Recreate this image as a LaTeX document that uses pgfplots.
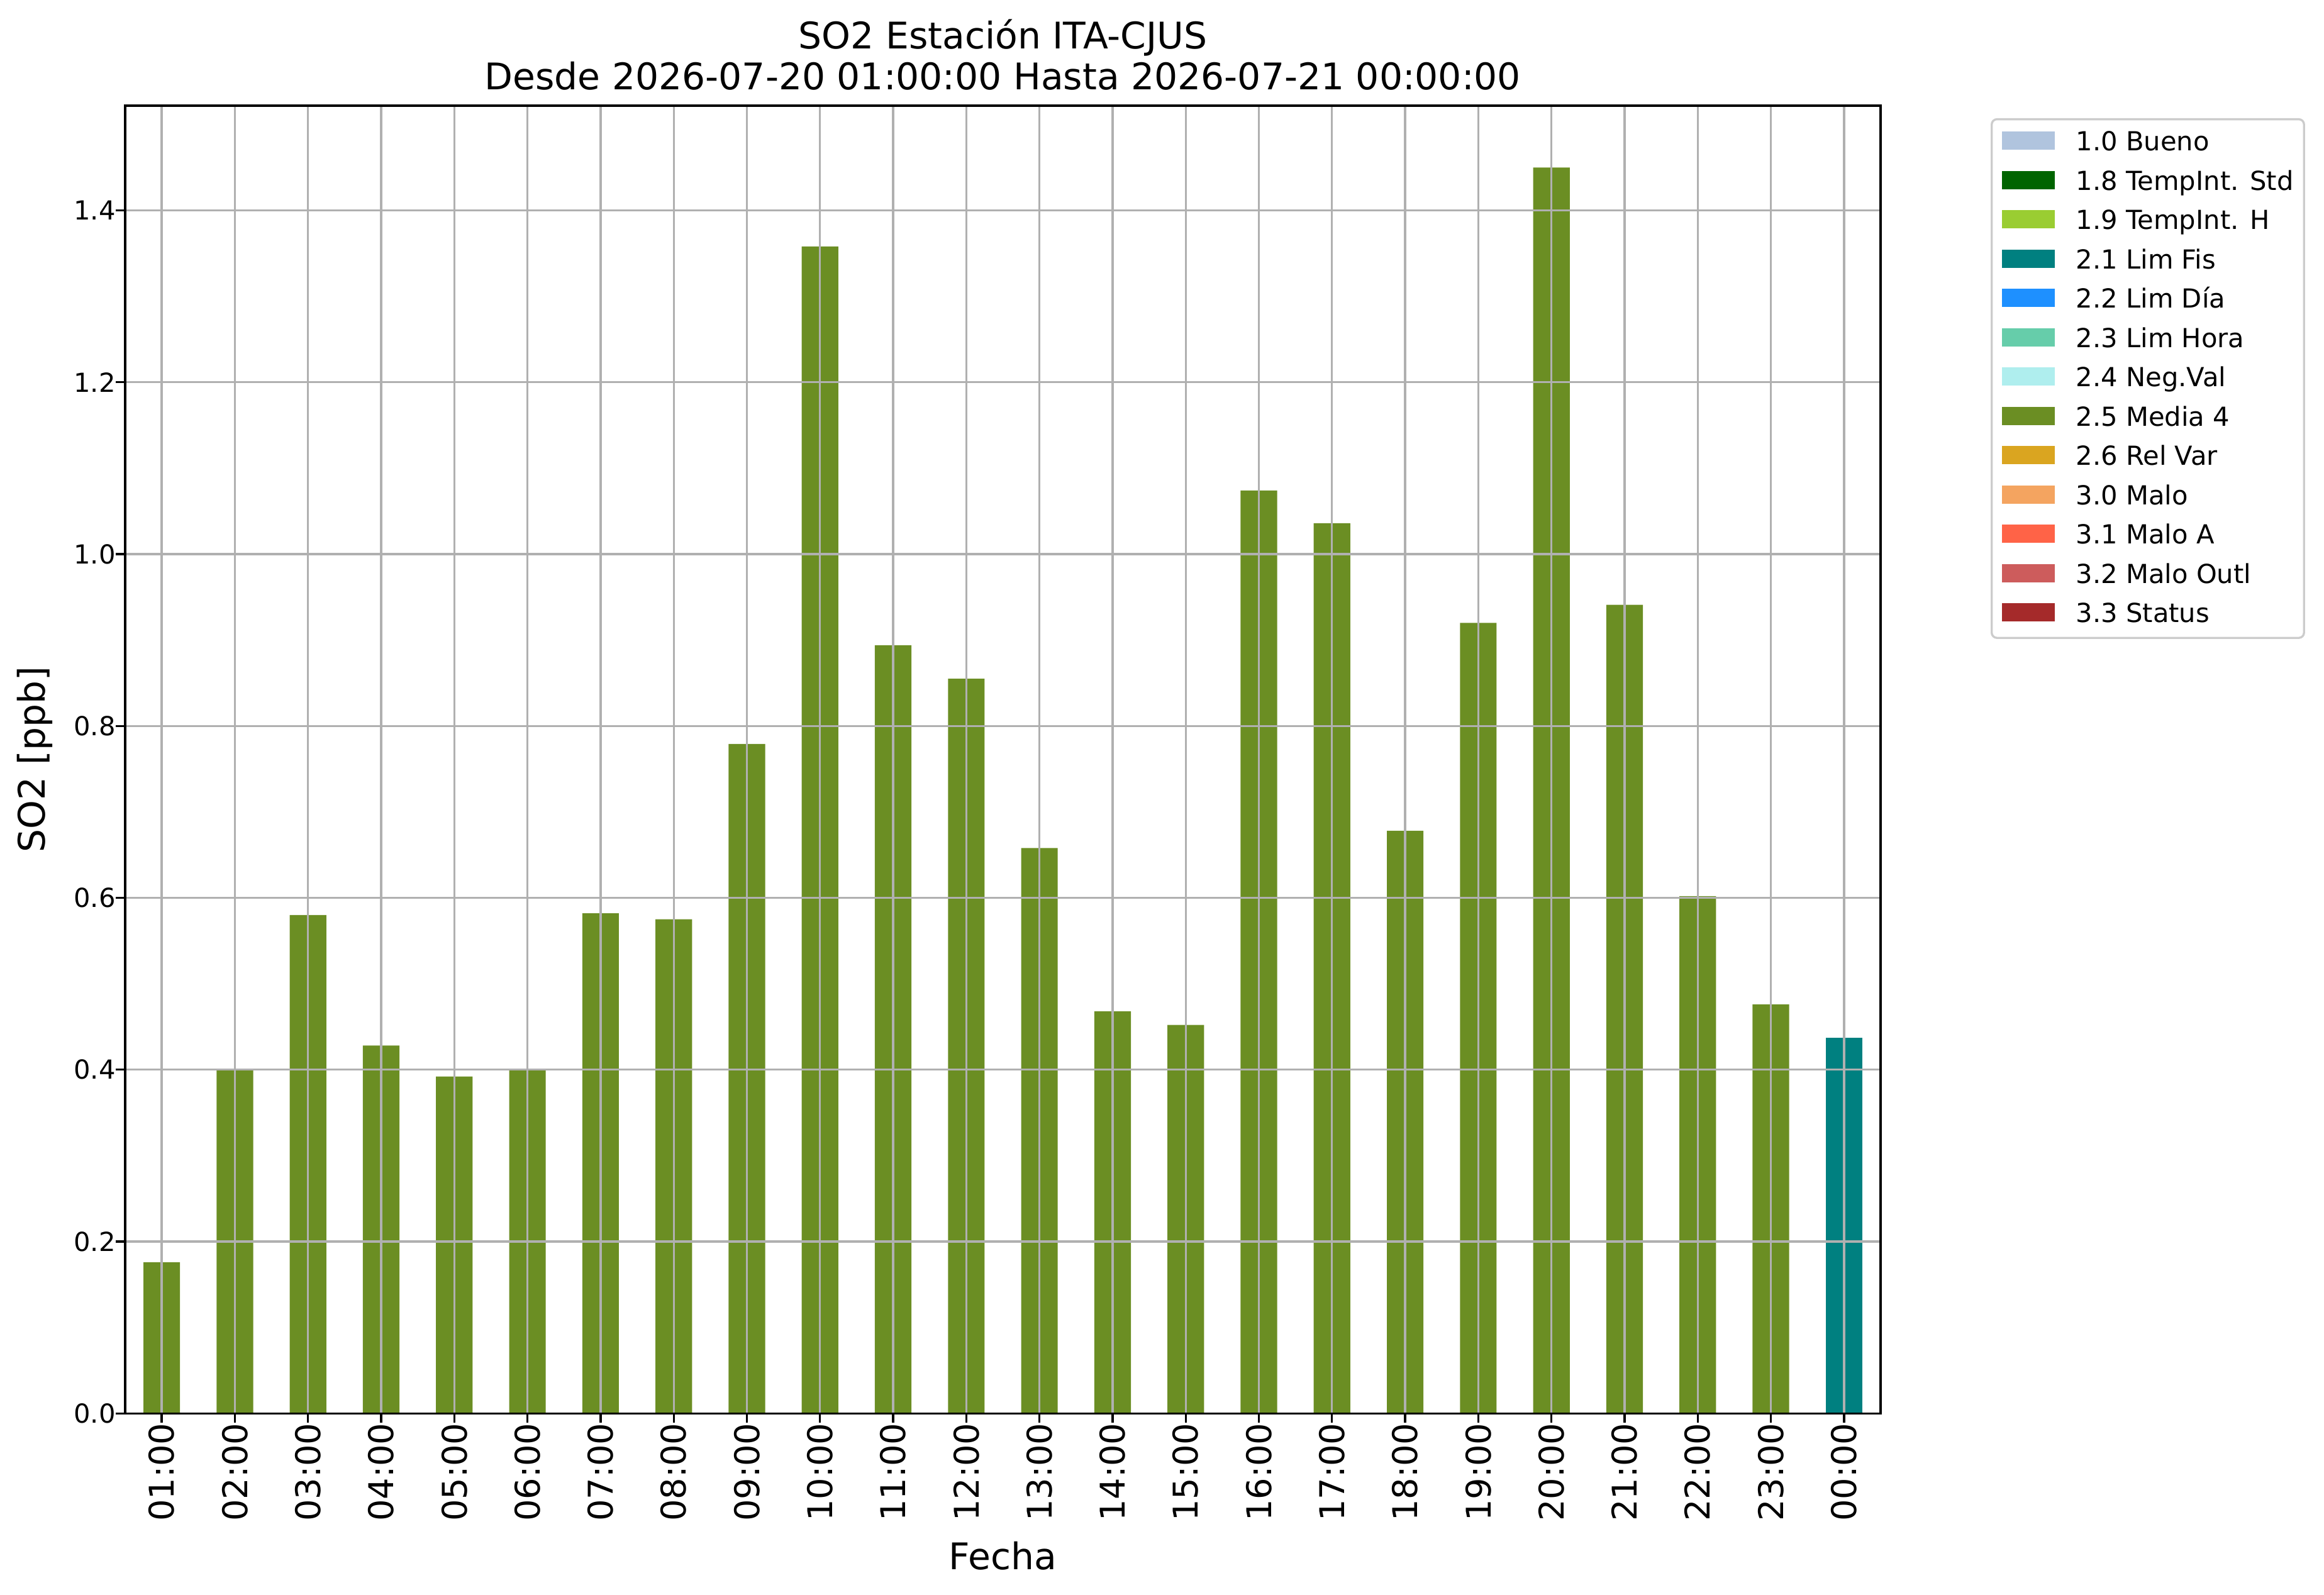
\documentclass[border=0pt]{standalone}
\usepackage{pgfplots}
\pgfplotsset{compat=1.18}
\usepackage{fontspec}
\setmainfont{DejaVu Sans}
\definecolor{lightsteelblue}{HTML}{B0C4DE}
\definecolor{darkgreenmpl}{HTML}{006400}
\definecolor{yellowgreen}{HTML}{9ACD32}
\definecolor{tealmpl}{HTML}{008080}
\definecolor{dodgerblue}{HTML}{1E90FF}
\definecolor{mediumaquamarine}{HTML}{66CDAA}
\definecolor{paleturquoise}{HTML}{AFEEEE}
\definecolor{olivedrab}{HTML}{6B8E23}
\definecolor{goldenrod}{HTML}{DAA520}
\definecolor{sandybrown}{HTML}{F4A460}
\definecolor{tomato}{HTML}{FF6347}
\definecolor{indianred}{HTML}{CD5C5C}
\definecolor{brownmpl}{HTML}{A52A2A}
\definecolor{gridgray}{HTML}{B0B0B0}
\pgfplotstableread{
x y
0 0.176
1 0.400
2 0.580
3 0.428
4 0.392
5 0.399
6 0.582
7 0.575
8 0.779
9 1.358
10 0.894
11 0.855
12 0.658
13 0.468
14 0.452
15 1.074
16 1.036
17 0.678
18 0.920
19 1.450
20 0.941
21 0.602
22 0.476
}\mediadata
\pgfplotstableread{
x y
23 0.437
}\limfisdata
\begin{document}
\begin{tikzpicture}
\path[use as bounding box] (-47.76pt,-69.3pt) rectangle (839.0pt,539.3pt);
\begin{axis}[
  name=ax,
  at={(0,0)}, anchor=south west,
  scale only axis,
  width=669.8pt, height=499pt,
  xmin=-0.5, xmax=23.5,
  ymin=0, ymax=1.522,
  xtick={0,...,23},
  xticklabels={01:00,02:00,03:00,04:00,05:00,06:00,07:00,08:00,09:00,10:00,11:00,12:00,13:00,14:00,15:00,16:00,17:00,18:00,19:00,20:00,21:00,22:00,23:00,00:00},
  ytick={0,0.2,0.4,0.6,0.8,1.0,1.2,1.4},
  yticklabels={0.0,0.2,0.4,0.6,0.8,1.0,1.2,1.4},
  tick align=outside,
  xtick pos=lower, ytick pos=left,
  major tick length=3.5pt,
  tick style={line width=0.8pt, black},
  axis line style={line width=0.8pt, black},
  grid=major,
  major grid style={line width=0.8pt, gridgray},
  axis on top,
  xticklabel style={rotate=90, anchor=east, inner sep=0pt, font=\fontsize{13}{15}\selectfont},
  yticklabel style={anchor=east, inner sep=0pt, font=\fontsize{10}{12}\selectfont},
  legend image code/.code={\fill[#1, draw=none, sharp corners] (0pt,0.3pt) rectangle (20pt,7.3pt); \path (27.8pt,0pt);},
  legend style={at={(1,1)}, anchor=north west, xshift=42pt, yshift=-4.8pt,
    draw=black!20, line width=0.8pt, rounded corners=2pt, fill=white,
    inner xsep=4.0pt, inner ysep=4.4pt, row sep=5.9pt,
    font=\fontsize{10}{12}\selectfont,
    cells={anchor=base west},
    nodes={inner sep=0pt, text height=7.6pt, text depth=1.5pt}},
]
\addplot[ybar, bar width=0.5, bar shift=0pt, draw=none, fill=olivedrab, forget plot] table[x=x,y=y] {\mediadata};
\addplot[ybar, bar width=0.5, bar shift=0pt, draw=none, fill=tealmpl, forget plot] table[x=x,y=y] {\limfisdata};
\addlegendimage{fill=lightsteelblue}\addlegendentry{1.0 Bueno}
\addlegendimage{fill=darkgreenmpl}\addlegendentry{1.8 TempInt. Std}
\addlegendimage{fill=yellowgreen}\addlegendentry{1.9 TempInt. H}
\addlegendimage{fill=tealmpl}\addlegendentry{2.1 Lim Fis}
\addlegendimage{fill=dodgerblue}\addlegendentry{2.2 Lim Día}
\addlegendimage{fill=mediumaquamarine}\addlegendentry{2.3 Lim Hora}
\addlegendimage{fill=paleturquoise}\addlegendentry{2.4 Neg.Val}
\addlegendimage{fill=olivedrab}\addlegendentry{2.5 Media 4}
\addlegendimage{fill=goldenrod}\addlegendentry{2.6 Rel Var}
\addlegendimage{fill=sandybrown}\addlegendentry{3.0 Malo}
\addlegendimage{fill=tomato}\addlegendentry{3.1 Malo A}
\addlegendimage{fill=indianred}\addlegendentry{3.2 Malo Outl}
\addlegendimage{fill=brownmpl}\addlegendentry{3.3 Status}
\end{axis}
\node[anchor=base, font=\fontsize{14}{16}\selectfont] at ([yshift=21.6pt]ax.north) {SO2 Estación ITA-CJUS};
\node[anchor=base, font=\fontsize{14}{16}\selectfont] at ([yshift=6pt]ax.north) {Desde 2026-07-20 01:00:00 Hasta 2026-07-21 00:00:00};
\node[anchor=base, font=\fontsize{14}{16}\selectfont] at ([yshift=-59.5pt]ax.south) {Fecha};
\node[rotate=90, anchor=center, font=\fontsize{14}{16}\selectfont] at ([xshift=-34.4pt]ax.west) {SO2 [ppb]};
\end{tikzpicture}
\end{document}
